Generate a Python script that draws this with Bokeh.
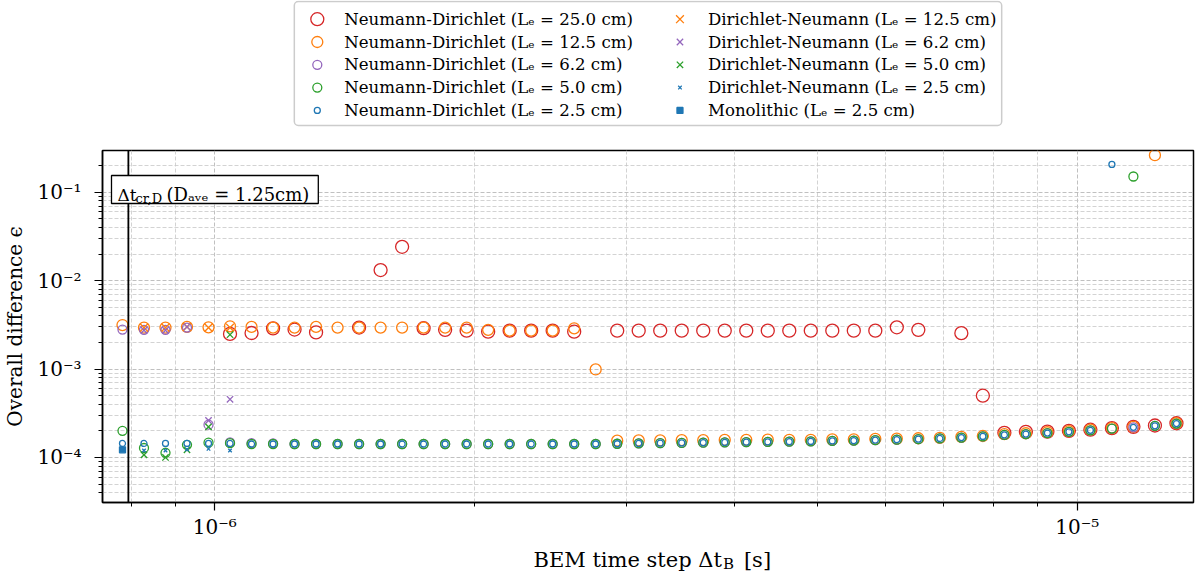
import numpy as np
from bokeh.plotting import figure
from bokeh.models import (Range1d, FixedTicker, CustomJSTickFormatter, Span, Label,
                          BoxAnnotation)
from bokeh.layouts import column
from bokeh.embed import file_html
from bokeh.resources import INLINE
from bokeh.core.properties import value

# ---------------------------------------------------------------- data
dt_B = [7.816e-7, 8.278e-7, 8.767e-7, 9.285e-7, 9.834e-7, 1.0415e-6, 1.1031e-6, 1.1683e-6,
        1.2373e-6, 1.3104e-6, 1.3879e-6, 1.4699e-6, 1.5568e-6, 1.6488e-6, 1.7462e-6,
        1.8494e-6, 1.9587e-6, 2.0745e-6, 2.1971e-6, 2.3269e-6, 2.4644e-6, 2.6101e-6,
        2.7643e-6, 2.9277e-6, 3.1007e-6, 3.2840e-6, 3.4781e-6, 3.6836e-6, 3.9013e-6,
        4.1319e-6, 4.3761e-6, 4.6347e-6, 4.9086e-6, 5.1987e-6, 5.5059e-6, 5.8313e-6,
        6.1759e-6, 6.5409e-6, 6.9275e-6, 7.3369e-6, 7.7705e-6, 8.2297e-6, 8.7160e-6,
        9.2311e-6, 9.7767e-6, 1.0354e-5, 1.0966e-5, 1.1614e-5, 1.2301e-5, 1.3028e-5]

nd_25 = [None, None, None, None, None, 2.5e-3, 2.56e-3, 2.89e-3, 2.8e-3, 2.6e-3,
         None, 2.95e-3, 1.32e-2, 2.42e-2, 2.9e-3, 2.78e-3, 2.72e-3, 2.65e-3, 2.72e-3, 2.72e-3,
         2.72e-3, 2.65e-3, None, 2.72e-3, 2.72e-3, 2.72e-3, 2.72e-3, 2.72e-3, 2.72e-3, 2.72e-3,
         2.72e-3, 2.72e-3, 2.72e-3, 2.72e-3, 2.72e-3, 2.72e-3, 2.97e-3, 2.78e-3, None, 2.55e-3,
         5.0e-4, 1.9e-4, 1.95e-4, 1.96e-4, 2.0e-4, 2.06e-4, 2.15e-4, 2.22e-4, 2.3e-4, 2.44e-4]

nd_125 = [3.15e-3, 2.95e-3, 2.95e-3, 3.0e-3, 2.97e-3, 3.05e-3, 3.0e-3, 2.95e-3, 2.95e-3, 3.0e-3,
          2.95e-3, 2.95e-3, 2.95e-3, 2.95e-3, 2.95e-3, 2.95e-3, 2.95e-3, 2.78e-3, 2.72e-3, 2.72e-3,
          2.72e-3, 2.89e-3, 9.9e-4, 1.55e-4, 1.56e-4, 1.56e-4, 1.57e-4, 1.57e-4, 1.58e-4, 1.58e-4,
          1.59e-4, 1.58e-4, 1.58e-4, 1.6e-4, 1.6e-4, 1.62e-4, 1.63e-4, 1.65e-4, 1.67e-4, 1.71e-4,
          1.75e-4, 1.84e-4, 1.88e-4, 1.93e-4, 1.98e-4, 2.06e-4, 2.15e-4, 2.22e-4, 0.263, 2.44e-4]

nd_62 = [2.8e-3, 2.78e-3, 2.78e-3, 2.95e-3, 2.35e-4, 1.48e-4, 1.45e-4, 1.44e-4, 1.42e-4, 1.42e-4,
         1.42e-4, 1.42e-4, 1.42e-4, 1.42e-4, 1.42e-4, 1.42e-4, 1.42e-4, 1.42e-4, 1.42e-4, 1.42e-4,
         1.42e-4, 1.42e-4, 1.42e-4, 1.43e-4, 1.44e-4, 1.45e-4, 1.46e-4, 1.47e-4, 1.48e-4, 1.49e-4,
         1.5e-4, 1.51e-4, 1.52e-4, 1.54e-4, 1.55e-4, 1.57e-4, 1.59e-4, 1.61e-4, 1.64e-4, 1.68e-4,
         1.73e-4, 1.8e-4, 1.84e-4, 1.89e-4, 1.95e-4, 2.03e-4, 2.12e-4, 2.19e-4, 2.28e-4, 2.42e-4]

nd_50 = [2.0e-4, 1.28e-4, 1.13e-4, 1.39e-4, 1.47e-4, 1.45e-4, 1.42e-4, 1.42e-4, 1.42e-4, 1.42e-4,
         1.42e-4, 1.42e-4, 1.42e-4, 1.42e-4, 1.42e-4, 1.42e-4, 1.42e-4, 1.42e-4, 1.42e-4, 1.42e-4,
         1.42e-4, 1.42e-4, 1.42e-4, 1.43e-4, 1.44e-4, 1.45e-4, 1.46e-4, 1.47e-4, 1.48e-4, 1.49e-4,
         1.5e-4, 1.51e-4, 1.52e-4, 1.54e-4, 1.55e-4, 1.57e-4, 1.59e-4, 1.61e-4, 1.64e-4, 1.68e-4,
         1.73e-4, 1.8e-4, 1.84e-4, 1.89e-4, 1.95e-4, 2.03e-4, 2.12e-4, 0.151, 2.28e-4, 2.42e-4]

nd_25cm2 = [1.44e-4, 1.44e-4, 1.44e-4, 1.44e-4, 1.44e-4, 1.44e-4, 1.42e-4, 1.42e-4, 1.42e-4, 1.42e-4,
            1.42e-4, 1.42e-4, 1.42e-4, 1.42e-4, 1.42e-4, 1.42e-4, 1.42e-4, 1.42e-4, 1.42e-4, 1.42e-4,
            1.42e-4, 1.42e-4, 1.42e-4, 1.43e-4, 1.44e-4, 1.45e-4, 1.46e-4, 1.47e-4, 1.48e-4, 1.49e-4,
            1.5e-4, 1.51e-4, 1.52e-4, 1.54e-4, 1.55e-4, 1.57e-4, 1.59e-4, 1.61e-4, 1.64e-4, 1.68e-4,
            1.73e-4, 1.8e-4, 1.84e-4, 1.89e-4, 1.95e-4, 2.03e-4, 0.207, 2.19e-4, 2.28e-4, 2.42e-4]

dn_125 = [None, 2.95e-3, 2.95e-3, 3.0e-3, 2.95e-3, 2.95e-3] + [None] * 44
dn_62 = [None, 2.75e-3, 2.75e-3, 3.0e-3, 2.62e-4, 4.55e-4] + [None] * 44
dn_50 = [None, 1.07e-4, 1.0e-4, 1.22e-4, 2.22e-4, 2.45e-3] + [None] * 44
dn_25 = [None, 1.2e-4, 1.2e-4, 1.23e-4, 1.25e-4, 1.2e-4] + [None] * 44
mono_25 = [1.22e-4] + [None] * 49

dt_cr = 7.94e-7   # critical time step (vertical line)

series_labels = [
    "Neumann-Dirichlet (Lₑ = 25.0 cm)",
    "Neumann-Dirichlet (Lₑ = 12.5 cm)",
    "Neumann-Dirichlet (Lₑ = 6.2 cm)",
    "Neumann-Dirichlet (Lₑ = 5.0 cm)",
    "Neumann-Dirichlet (Lₑ = 2.5 cm)",
    "Dirichlet-Neumann (Lₑ = 12.5 cm)",
    "Dirichlet-Neumann (Lₑ = 6.2 cm)",
    "Dirichlet-Neumann (Lₑ = 5.0 cm)",
    "Dirichlet-Neumann (Lₑ = 2.5 cm)",
    "Monolithic (Lₑ = 2.5 cm)",
]
series_values = [nd_25, nd_125, nd_62, nd_50, nd_25cm2, dn_125, dn_62, dn_50, dn_25, mono_25]

x_major_ticks = [1e-6, 1e-5]
x_minor_ticks = [8e-7, 9e-7, 2e-6, 3e-6, 4e-6, 5e-6, 6e-6, 7e-6, 8e-6, 9e-6]
y_major_ticks = [1e-4, 1e-3, 1e-2, 1e-1]
y_minor_ticks = [4e-5, 5e-5, 6e-5, 7e-5, 8e-5, 9e-5,
                 2e-4, 3e-4, 4e-4, 5e-4, 6e-4, 7e-4, 8e-4, 9e-4,
                 2e-3, 3e-3, 4e-3, 5e-3, 6e-3, 7e-3, 8e-3, 9e-3,
                 2e-2, 3e-2, 4e-2, 5e-2, 6e-2, 7e-2, 8e-2, 9e-2, 2e-1]

# ---------------------------------------------------------------- styles
RED, ORANGE, PURPLE, GREEN, BLUE = "#d62728", "#ff7f0e", "#9467bd", "#2ca02c", "#1f77b4"
styles = [
    dict(marker="circle", size=13, color=RED, filled=False),
    dict(marker="circle", size=11, color=ORANGE, filled=False),
    dict(marker="circle", size=9, color=PURPLE, filled=False),
    dict(marker="circle", size=9, color=GREEN, filled=False),
    dict(marker="circle", size=6, color=BLUE, filled=False),
    dict(marker="x", size=11, color=ORANGE, filled=False),
    dict(marker="x", size=9, color=PURPLE, filled=False),
    dict(marker="x", size=9, color=GREEN, filled=False),
    dict(marker="x", size=5, color=BLUE, filled=False),
    dict(marker="square", size=6, color=BLUE, filled=True),
]

FONT = "DejaVu Serif"
W = 1197
TOTAL_H = 574
LEG_H = 140             # legend strip (top)
MAIN_H = 403            # plot (frame + tick labels)
LAB_H = TOTAL_H - LEG_H - MAIN_H   # x-axis title strip (bottom)
FL, FR = 101, 1193      # frame left / right (px)
FT, FB = 10, 362        # frame top / bottom inside main figure (px)
x_lo, x_hi = 7.41e-7, 1.3635e-5
y_lo, y_hi = 3.093e-5, 0.2974


def px_to_x(px):
    a, b = np.log10(x_lo), np.log10(x_hi)
    return 10 ** (a + (px - FL) / (FR - FL) * (b - a))


def py_to_y(py):
    a, b = np.log10(y_lo), np.log10(y_hi)
    return 10 ** (b - (py - FT) / (FB - FT) * (b - a))


def draw_marker(fig, x, y, st, lw=1.3):
    kw = dict(marker=st["marker"], size=st["size"], line_color=st["color"], line_width=lw)
    if st["filled"]:
        kw.update(fill_color=st["color"], fill_alpha=1.0)
    else:
        kw.update(fill_alpha=0.0)
    fig.scatter(x=x, y=y, **kw)


def strip_figure(height):
    f = figure(width=W, height=height, x_range=Range1d(FL, FR), y_range=Range1d(0, height),
               output_backend="svg", toolbar_location=None,
               min_border_left=FL, min_border_right=W - FR, min_border_top=0, min_border_bottom=0,
               x_axis_location=None, y_axis_location=None)
    f.xgrid.visible = False
    f.ygrid.visible = False
    f.outline_line_color = None
    f.background_fill_color = "white"
    f.border_fill_color = "white"
    return f


# ---------------------------------------------------------------- main plot
p = figure(width=W, height=MAIN_H, x_axis_type="log", y_axis_type="log",
           x_range=Range1d(x_lo, x_hi), y_range=Range1d(y_lo, y_hi),
           output_backend="svg", toolbar_location=None,
           min_border_left=FL, min_border_right=W - FR,
           min_border_top=FT, min_border_bottom=MAIN_H - FB)
p.background_fill_color = "white"
p.border_fill_color = "white"
p.outline_line_color = "black"
p.outline_line_width = 1.5
p.outline_line_alpha = 1.0

sup_js = """
const sup = {"-":"\u207b","0":"\u2070","1":"\u00b9","2":"\u00b2","3":"\u00b3","4":"\u2074",
             "5":"\u2075","6":"\u2076","7":"\u2077","8":"\u2078","9":"\u2079"};
const e = Math.round(Math.log10(tick));
return "10" + String(e).split("").map(c => sup[c]).join("");
"""
p.xaxis.ticker = FixedTicker(ticks=x_major_ticks, minor_ticks=x_minor_ticks)
p.yaxis.ticker = FixedTicker(ticks=y_major_ticks, minor_ticks=y_minor_ticks)
p.xaxis.formatter = CustomJSTickFormatter(code=sup_js)
p.yaxis.formatter = CustomJSTickFormatter(code=sup_js)

for ax in (p.xaxis, p.yaxis):
    ax.major_label_text_font = FONT
    ax.major_label_text_font_size = "20px"
    ax.major_label_text_color = "black"
    ax.major_tick_out = 8
    ax.major_tick_in = 0
    ax.minor_tick_out = 4
    ax.minor_tick_in = 0
    ax.major_tick_line_width = 1.2
    ax.minor_tick_line_width = 1.0
    ax.major_tick_line_color = "black"
    ax.minor_tick_line_color = "black"
    ax.axis_line_color = "black"
    ax.axis_line_width = 1.5
p.xaxis.major_label_standoff = 4
p.yaxis.major_label_standoff = 13

p.xaxis.axis_label = None
p.yaxis.axis_label = "Overall difference ϵ"
p.yaxis.axis_label_text_font = FONT
p.yaxis.axis_label_text_font_size = "20px"
p.yaxis.axis_label_text_font_style = "normal"
p.yaxis.axis_label_text_color = "black"
p.yaxis.axis_label_standoff = 7

for g in (p.xgrid, p.ygrid):
    g.grid_line_color = "#b0b0b0"
    g.grid_line_dash = "4 2"
    g.grid_line_width = 0.8
    g.minor_grid_line_color = "#c8c8c8"
    g.minor_grid_line_dash = "4 2"
    g.minor_grid_line_width = 0.8

x_arr = np.array(dt_B, dtype=float)
for vals, st in zip(series_values, styles):
    draw_marker(p, x_arr, np.array(vals, dtype=float), st)

p.add_layout(Span(location=dt_cr, dimension="height", line_color="black", line_width=1.8))

# annotation box for the critical time step
p.add_layout(BoxAnnotation(left=px_to_x(110), right=px_to_x(317),
                           top=py_to_y(175 - LEG_H), bottom=py_to_y(203 - LEG_H),
                           fill_color="white", fill_alpha=1.0,
                           line_color="black", line_alpha=1.0, line_width=1.3))
lbl_kw = dict(text_font=FONT, text_color="black", text_baseline="alphabetic", text_align="left")
p.add_layout(Label(x=px_to_x(116), y=py_to_y(194 - LEG_H), text="Δt", text_font_size="17px", **lbl_kw))
p.add_layout(Label(x=px_to_x(134), y=py_to_y(198 - LEG_H), text="cr,D", text_font_size="13px", **lbl_kw))
p.add_layout(Label(x=px_to_x(165), y=py_to_y(194 - LEG_H), text="(Dₐᵥₑ = 1.25cm)",
                   text_font_size="18px", **lbl_kw))

# ---------------------------------------------------------------- legend strip
leg = strip_figure(LEG_H)
leg_box = BoxAnnotation(left=293, right=1001, bottom=LEG_H - 125, top=LEG_H - 1,
                        fill_color="white", fill_alpha=1.0, line_color="#cccccc",
                        line_alpha=1.0, line_width=1.5, border_radius=4)
leg_box.level = "underlay"
leg.add_layout(leg_box)

col_marker_x = [316, 679]
col_text_x = [343, 707]
row_py = [18.7, 41.5, 64.3, 87.1, 109.9]
for i, st in enumerate(styles):
    c, r = divmod(i, 5)
    draw_marker(leg, [col_marker_x[c]], [LEG_H - row_py[r]], st)
leg.text(x=[col_text_x[i // 5] for i in range(10)],
         y=[LEG_H - row_py[i % 5] for i in range(10)],
         text=series_labels, text_font=value(FONT), text_font_size="16.6px",
         text_baseline="middle", text_align="left", text_color="black")

# ---------------------------------------------------------------- x-axis title strip
lab = strip_figure(LAB_H)
base = TOTAL_H - 559      # baseline of the x-axis title (from the strip bottom)
lab.text(x=[721], y=[base], text=["BEM time step Δt"], text_font=value(FONT),
         text_font_size="21px", text_align="right", text_baseline="alphabetic", text_color="black")
lab.text(x=[722], y=[base - 4], text=["B"], text_font=value(FONT),
         text_font_size="15px", text_align="left", text_baseline="alphabetic", text_color="black")
lab.text(x=[743], y=[base], text=["[s]"], text_font=value(FONT),
         text_font_size="21px", text_align="left", text_baseline="alphabetic", text_color="black")

layout = column(leg, p, lab, spacing=0)
open("out.html", "w", encoding="utf-8").write(file_html(layout, INLINE))
